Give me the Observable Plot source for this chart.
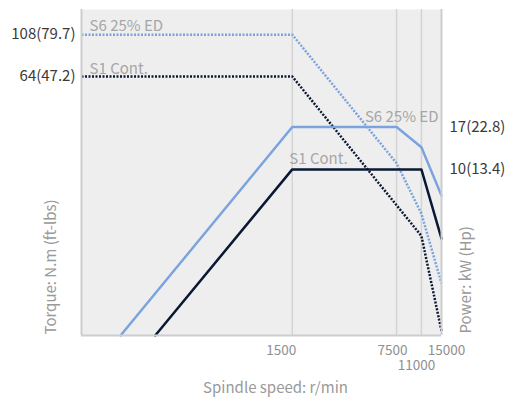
<!DOCTYPE html>
<html><head><meta charset="utf-8">
<script src="https://cdn.jsdelivr.net/npm/d3@7"></script>
<script src="https://cdn.jsdelivr.net/npm/@observablehq/plot@0.6"></script>
<style>html,body{margin:0;padding:0;background:#fff;} #chart svg{display:block}</style>
</head><body><div id="chart"></div>
<script>
// ---- data ----
const speedS6Torque = [58, 1500, 7500, 11000, 15000];
const torqueS6 = [108, 108, 21.6, 11.5, 4.8];
const speedS1Torque = [58, 1500, 11000, 15000];
const torqueS1 = [64, 64, 8.7, 2.65];
const speedS6Power = [106, 1500, 7500, 11000, 15000];
const powerS6 = [1.25, 17, 17, 13.2, 7.2];
const speedS1Power = [181, 1500, 11000, 15000];
const powerS1 = [1.25, 10, 10, 4.2];

const xTicks = [1500, 7500, 11000, 15000];
const torqueTicks = [108, 64];
const torqueTickLabels = ["108(79.7)", "64(47.2)"];
const powerTicks = [17, 10];
const powerTickLabels = ["17(22.8)", "10(13.4)"];
const seriesNames = ["S6 25% ED", "S1 Cont."];

// ---- helpers ----
const K = 2; // power axis -> torque axis factor (dual log axis)
const rows = (xs, ys, f = 1) => xs.map((x, i) => ({x, y: ys[i] * f}));
const font = "'Noto Sans CJK SC','Noto Sans',sans-serif";
const BLUE = "#7ba3dd", NAVY = "#0b1834";
const X0 = 58, X1 = 15000, Y0 = 2.5, Y1 = 148;

// per-label horizontal nudges / rows for x tick labels (style only)
const tickStyle = {1500: {dx: -11, dy: 15}, 7500: {dx: -4, dy: 15}, 11000: {dx: -5, dy: 30}, 15000: {dx: 5, dy: 15}};

const tickMarks = xTicks.map(t => Plot.text([t], {
  x: d => d, y: () => Y0, text: d => String(d),
  dx: tickStyle[t].dx, dy: tickStyle[t].dy,
  fill: "#8f8f8f", fontSize: 13.5, textAnchor: "middle"
}));

const dotted = {strokeWidth: 2.5, strokeDasharray: "2,1.5", strokeLinecap: "butt", strokeLinejoin: "miter"};

const chart = Plot.plot({
  width: 505, height: 406,
  marginLeft: 81, marginRight: 64, marginTop: 9, marginBottom: 71,
  x: {type: "log", domain: [X0, X1], axis: null},
  y: {type: "log", domain: [Y0, Y1], axis: null},
  style: {fontFamily: font, background: "#fff", overflow: "visible"},
  marks: [
    Plot.frame({fill: "#eeeeee", stroke: null}),
    Plot.ruleX(xTicks.slice(0, 3), {stroke: "#d4d4d4", strokeWidth: 1.5}),
    // torque (dotted)
    Plot.line(rows(speedS6Torque, torqueS6), {x: "x", y: "y", stroke: BLUE, ...dotted}),
    Plot.line(rows(speedS1Torque, torqueS1), {x: "x", y: "y", stroke: NAVY, ...dotted}),
    // power (solid)
    Plot.line(rows(speedS6Power, powerS6, K), {x: "x", y: "y", stroke: BLUE, strokeWidth: 2.5}),
    Plot.line(rows(speedS1Power, powerS1, K), {x: "x", y: "y", stroke: NAVY, strokeWidth: 2.5}),
    // borders
    Plot.ruleX([X0, X1], {stroke: "#cdcdcd", strokeWidth: 2}),
    Plot.ruleY([Y0], {stroke: "#cdcdcd", strokeWidth: 2}),
    // series labels
    Plot.text([0], {x: () => X0, y: () => torqueTicks[0], text: () => seriesNames[0], textAnchor: "start", dx: 8, dy: -8, fill: "#a6a6a6", fontSize: 15}),
    Plot.text([0], {x: () => X0, y: () => torqueTicks[1], text: () => seriesNames[1], textAnchor: "start", dx: 8, dy: -7, fill: "#a6a6a6", fontSize: 15}),
    Plot.text([0], {x: () => X1, y: () => powerTicks[0] * K, text: () => seriesNames[0], textAnchor: "end", dx: -3, dy: -10, fill: "#a6a6a6", fontSize: 15}),
    Plot.text([0], {x: () => xTicks[0], y: () => powerTicks[1] * K, text: () => seriesNames[1], textAnchor: "start", dx: -3, dy: -10, fill: "#a6a6a6", fontSize: 15}),
    // value labels
    Plot.text(torqueTicks, {x: () => X0, y: d => d, text: (d, i) => torqueTickLabels[i], textAnchor: "end", dx: -6, fill: "#3a3a3a", fontSize: 15}),
    Plot.text(powerTicks, {x: () => X1, y: d => d * K, text: (d, i) => powerTickLabels[i], textAnchor: "start", dx: 8, fill: "#3a3a3a", fontSize: 15}),
    ...tickMarks,
    // axis titles
    Plot.text(["Spindle speed: r/min"], {frameAnchor: "bottom", text: d => d, dx: 14, dy: 57, fill: "#999", fontSize: 15}),
    Plot.text(["Torque: N.m (ft-lbs)"], {frameAnchor: "bottom-left", text: d => d, rotate: -90, textAnchor: "start", dx: -26, dy: -1, fill: "#999", fontSize: 15}),
    Plot.text(["Power: kW (Hp)"], {frameAnchor: "bottom-right", text: d => d, rotate: -90, textAnchor: "start", dx: 29, dy: -2, fill: "#999", fontSize: 15})
  ]
});
document.getElementById("chart").append(chart);
</script>
</body></html>
